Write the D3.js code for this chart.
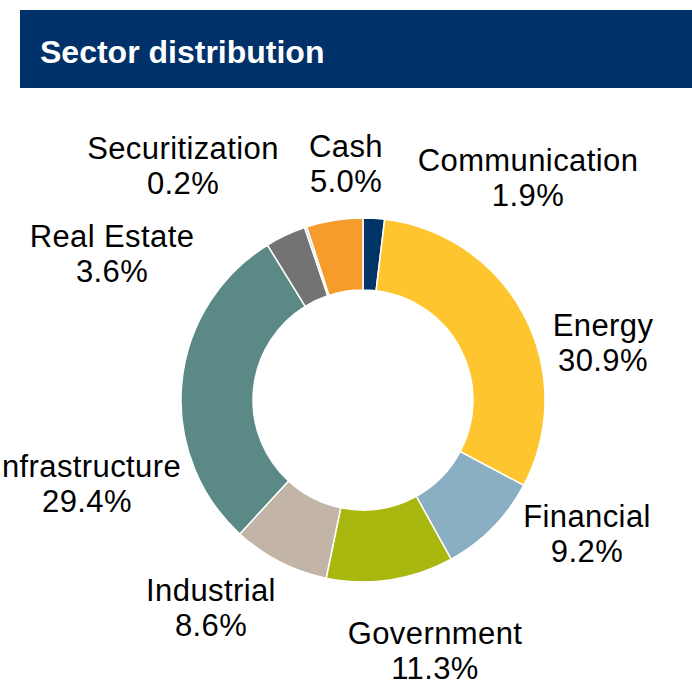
<!DOCTYPE html>
<html>
<head>
<meta charset="utf-8">
<script src="https://cdn.jsdelivr.net/npm/d3@7"></script>
<style>
  body { margin: 0; background: #fff; }
  svg { display: block; font-family: "Liberation Sans", Arial, sans-serif; }
</style>
</head>
<body>
<div id="chart"></div>
<script>
// sector data
var sectors = ["Communication", "Energy", "Financial", "Government", "Industrial",
               "Infrastructure", "Real Estate", "Securitization", "Cash"];
var weights = [1.9, 30.9, 9.2, 11.3, 8.6, 29.4, 3.6, 0.2, 5.0];
var colors = ["#003366", "#FFC52F", "#8AAFC2", "#A9B80F", "#C2B4A6",
              "#5B8A86", "#737373", "#9DC3E6", "#F59C2C"];

// where each label sits, relative to the donut centre (x centre, first baseline)
var labelOffsets = [[165, -229], [240, -64], [224, 127], [72, 244], [-152, 201],
                    [-276, 77], [-251, -153], [-180, -241], [-17, -243]];

var W = 692, H = 685;
var cx = 363, cy = 400, outerR = 182, innerR = 110;

var svg = d3.select("#chart").append("svg")
    .attr("width", W)
    .attr("height", H);

// header bar
svg.append("rect")
    .attr("x", 20).attr("y", 10)
    .attr("width", W - 20).attr("height", 78)
    .attr("fill", "#003168");
svg.append("text")
    .attr("x", 40).attr("y", 63)
    .attr("fill", "#fff")
    .style("font-size", "32px")
    .style("font-weight", "bold")
    .text("Sector distribution");

var data = sectors.map(function(s, i) { return {name: s, value: weights[i], i: i}; });

var pie = d3.pie()
    .sort(null)
    .value(function(d) { return d.value; })
    .startAngle(0)
    .endAngle(2 * Math.PI);

var arc = d3.arc()
    .innerRadius(innerR)
    .outerRadius(outerR);

var g = svg.append("g")
    .attr("transform", "translate(" + cx + "," + cy + ")");

g.selectAll("path.slice")
    .data(pie(data))
    .enter()
    .append("path")
      .attr("class", "slice")
      .attr("d", arc)
      .attr("fill", function(d) { return colors[d.data.i]; })
      .attr("stroke", "#fff")
      .attr("stroke-width", 1.5);

// labels
var fmt = d3.format(".1f");
var labels = g.selectAll("text.lbl")
    .data(pie(data))
    .enter()
    .append("text")
      .attr("class", "lbl")
      .attr("text-anchor", "middle")
      .attr("fill", "#000")
      .style("font-size", "31px")
      .style("letter-spacing", "0.4px");

labels.append("tspan")
    .attr("x", function(d) { return labelOffsets[d.data.i][0]; })
    .attr("y", function(d) { return labelOffsets[d.data.i][1]; })
    .text(function(d) { return d.data.name; });
labels.append("tspan")
    .attr("x", function(d) { return labelOffsets[d.data.i][0]; })
    .attr("y", function(d) { return labelOffsets[d.data.i][1] + 35; })
    .text(function(d) { return fmt(d.data.value) + "%"; });
</script>
</body>
</html>
